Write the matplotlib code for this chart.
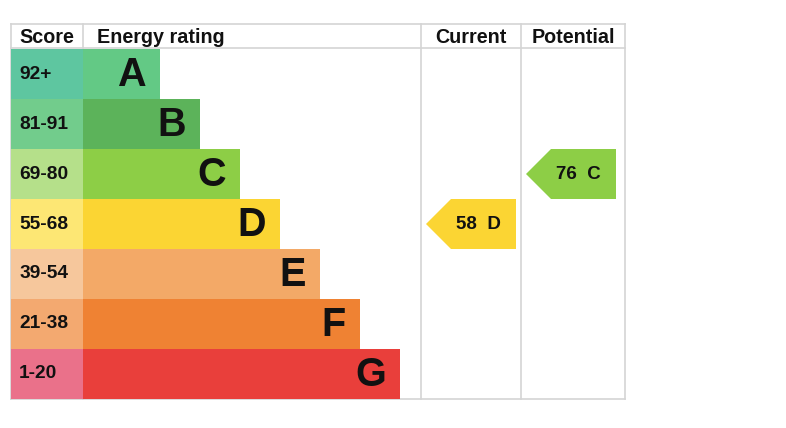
import matplotlib.pyplot as plt
from matplotlib.patches import Rectangle, Polygon

plt.rcParams['font.family'] = ['Liberation Sans', 'DejaVu Sans']

# Данные
bands = ["A", "B", "C", "D", "E", "F", "G"]
scores = ["92+", "81-91", "69-80", "55-68", "39-54", "21-38", "1-20"]
bar_colors = ["#63c985", "#5cb35a", "#8dce46", "#fbd533", "#f3a967", "#ef8233", "#e93f3b"]
score_colors = ["#5ec6a0", "#72cc8c", "#b5e08a", "#fde774", "#f6c79c", "#f3a970", "#ea718a"]
current = (58, "D")
potential = (76, "C")

W, H = 786, 428
fig = plt.figure(figsize=(W / 100, H / 100), dpi=100)
ax = fig.add_axes([0, 0, 1, 1])
ax.set_xlim(0, W)
ax.set_ylim(H, 0)
ax.axis("off")

# Геометрия таблицы (пиксели)
left, right = 11, 625
top, head = 24, 48
row_h = 50
col_score, col_cur, col_pot = 83, 421, 521
bottom = head + 1 + row_h * len(bands)
grid = "#d4d4d4"

# Сетка
for x in [left, col_score, col_cur, col_pot, right]:
    ax.plot([x, x], [top, bottom], color=grid, lw=1.2, zorder=1)
for y in [top, head, bottom]:
    ax.plot([left, right], [y, y], color=grid, lw=1.2, zorder=1)

hdr = dict(fontsize=14.2, fontweight="bold", va="center", color="#111111")
ax.text(19, 37, "Score", ha="left", **hdr)
ax.text(97, 37, "Energy rating", ha="left", **hdr)
ax.text((col_cur + col_pot) / 2, 37, "Current", ha="center", **hdr)
ax.text((col_pot + right) / 2, 37, "Potential", ha="center", **hdr)

row_top = {}
for i, (b, s) in enumerate(zip(bands, scores)):
    y0 = head + 1 + i * row_h
    row_top[b] = y0
    bar_end = 160 + 40 * i
    ax.add_patch(Rectangle((left, y0), col_score - left, row_h, color=score_colors[i], lw=0, zorder=2))
    ax.add_patch(Rectangle((col_score, y0), bar_end - col_score, row_h, color=bar_colors[i], lw=0, zorder=2))
    ax.text(19, y0 + row_h / 2, s, ha="left", va="center", fontsize=13.8,
            fontweight="bold", color="#111111", zorder=3)
    ax.text(bar_end - 14, y0 + row_h / 2 + 1, b, ha="right", va="center", fontsize=28.5,
            fontweight="bold", color="#111111", zorder=3)


def arrow(x_tip, x_right, rating):
    val, band = rating
    i = bands.index(band)
    y0 = row_top[band]
    y1 = y0 + row_h
    pts = [(x_tip, (y0 + y1) / 2), (x_tip + 25, y0), (x_right, y0), (x_right, y1), (x_tip + 25, y1)]
    ax.add_patch(Polygon(pts, closed=True, color=bar_colors[i], lw=0, zorder=2))
    ax.text(x_tip + 52, (y0 + y1) / 2, f"{val}  {band}", ha="center", va="center",
            fontsize=13.5, fontweight="bold", color="#111111", zorder=3)


arrow(426, 516, current)
arrow(526, 616, potential)

fig.savefig("out.png", dpi=100)
